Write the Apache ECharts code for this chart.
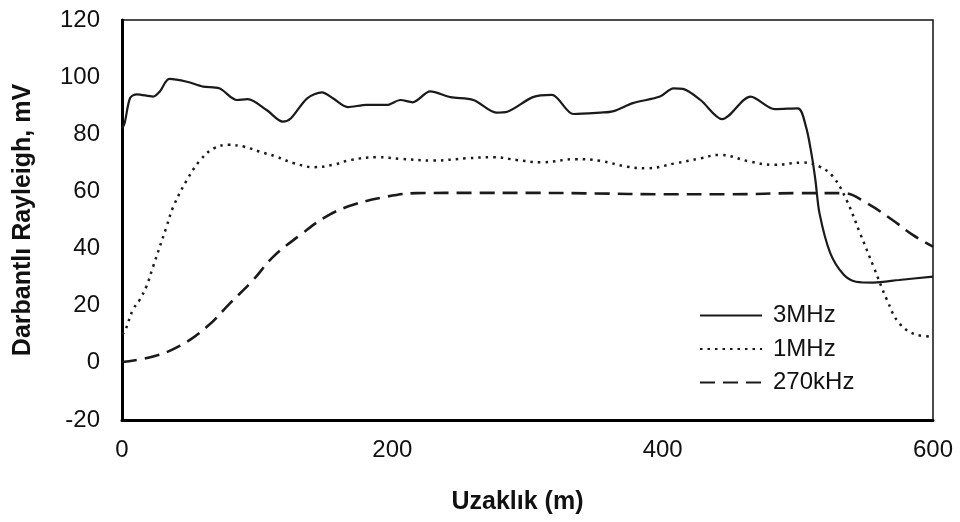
<!DOCTYPE html>
<html>
<head>
<meta charset="utf-8">
<script src="https://cdn.jsdelivr.net/npm/echarts@6/dist/echarts.min.js"></script>
<style>
  html, body { margin: 0; padding: 0; background: #fff; }
  #chart { width: 960px; height: 522px; }
</style>
</head>
<body>
<div id="chart"></div>
<script>
// 3MHz (solid)
const x3MHz = [0, 2, 6, 11, 23, 28, 35, 48, 60, 72, 85, 93, 107, 119, 125, 137, 148, 156, 167, 181, 196, 206, 215, 228, 243, 260, 277, 285, 304, 318, 334, 354, 363, 378, 398, 408, 415, 428, 444, 465, 483, 500, 506, 510, 513, 516, 524, 534, 543, 556, 575, 600]
const y3MHz = [82, 84, 92.7, 94, 93.2, 95, 99.4, 98.4, 96.7, 96.1, 92, 92.3, 88.5, 84.4, 85.6, 92.6, 94.7, 92.6, 89.5, 90.3, 90.3, 92, 91.2, 95, 93, 92, 87.6, 87.9, 93, 93.8, 87.1, 87.6, 88, 90.9, 93.2, 96.1, 95.9, 92, 85.3, 93.2, 88.8, 89.1, 82.7, 73.4, 64, 52.4, 38.4, 30.8, 28.4, 28.1, 29, 30.2]

// 1MHz (dotted)
const x1MHz = [0, 2, 8, 13, 18, 23, 33, 38, 48, 58, 68, 79, 90, 102, 114, 127, 142, 156, 169, 189, 206, 230, 255, 275, 292, 310, 336, 354, 373, 388, 410, 428, 442, 465, 482, 504, 516, 526, 536, 546, 556, 566, 575, 588, 600]
const y1MHz = [10, 10.9, 18.5, 22, 26.7, 33.7, 47.7, 54.7, 64, 71, 75.1, 76.3, 75.7, 73.9, 72.2, 69.9, 68.5, 69.3, 71, 72, 71.4, 70.8, 71.6, 72, 71, 70.2, 71.3, 70.7, 68.7, 68.1, 69.9, 71.6, 72.8, 70.4, 69.3, 70.1, 68.7, 65.2, 57, 45.4, 33.7, 22, 13.9, 9.8, 9.2]

// 270kHz (dashed)
const x270kHz = [0, 23, 43, 63, 80, 97, 112, 132, 151, 171, 196, 218, 260, 300, 350, 400, 450, 500, 534, 551, 570, 585, 600]
const y270kHz = [0.3, 2.2, 6, 12.7, 20.9, 29, 37.2, 44.8, 51.2, 55.3, 58.2, 59.4, 59.5, 59.5, 59.3, 59, 59, 59.4, 59.4, 55.9, 50, 44.8, 40.7]

const zip = (xs, ys) => xs.map((x, i) => [x, ys[i]])

const font = 'Liberation Sans, Arial, sans-serif'
const ink = '#1a1a1a'

const chart = echarts.init(document.getElementById('chart'))
chart.setOption({
  animation: false,
  backgroundColor: '#fff',
  color: [ink, ink, ink],
  grid: {
    left: 122,
    right: 27,
    top: 20,
    bottom: 102,
    show: true,
    borderColor: '#111',
    borderWidth: 1.5
  },
  legend: {
    orient: 'vertical',
    left: 694,
    top: 298,
    itemWidth: 62,
    itemHeight: 25,
    itemGap: 8.5,
    itemStyle: { opacity: 0 },
    textStyle: { fontFamily: font, fontSize: 24, lineHeight: 25, color: '#111', padding: [0, 0, 0, 6] },
    data: ['3MHz', '1MHz', '270kHz']
  },
  xAxis: {
    type: 'value',
    min: 0,
    max: 600,
    interval: 200,
    name: 'Uzaklık (m)',
    nameLocation: 'middle',
    nameGap: 70,
    nameTextStyle: { fontFamily: font, fontSize: 25, fontWeight: 'bold', color: '#111', padding: [0, 20, 0, 0] },
    axisLine: { onZero: false, lineStyle: { color: '#000', width: 3 } },
    axisTick: { show: false },
    splitLine: { show: false },
    axisLabel: { fontFamily: font, fontSize: 24, color: '#111', margin: 18 }
  },
  yAxis: {
    type: 'value',
    min: -20,
    max: 120,
    interval: 20,
    name: 'Darbantlı Rayleigh, mV',
    nameLocation: 'middle',
    nameGap: 86,
    nameTextStyle: { fontFamily: font, fontSize: 25, fontWeight: 'bold', color: '#111' },
    axisLine: { show: true, onZero: false, lineStyle: { color: '#000', width: 3 } },
    axisTick: { show: false },
    splitLine: { show: false },
    axisLabel: { fontFamily: font, fontSize: 24, color: '#111', margin: 22 }
  },
  series: [
    {
      name: '3MHz',
      type: 'line',
      symbol: 'none',
      smooth: 0.3,
      data: zip(x3MHz, y3MHz),
      lineStyle: { color: ink, width: 2.2, type: 'solid' }
    },
    {
      name: '1MHz',
      type: 'line',
      symbol: 'none',
      smooth: 0.4,
      data: zip(x1MHz, y1MHz),
      lineStyle: { color: ink, width: 2.5, type: [2.5, 5] }
    },
    {
      name: '270kHz',
      type: 'line',
      symbol: 'none',
      smooth: 0.4,
      data: zip(x270kHz, y270kHz),
      lineStyle: { color: ink, width: 2.6, type: [15, 8] }
    }
  ]
})
</script>
</body>
</html>
